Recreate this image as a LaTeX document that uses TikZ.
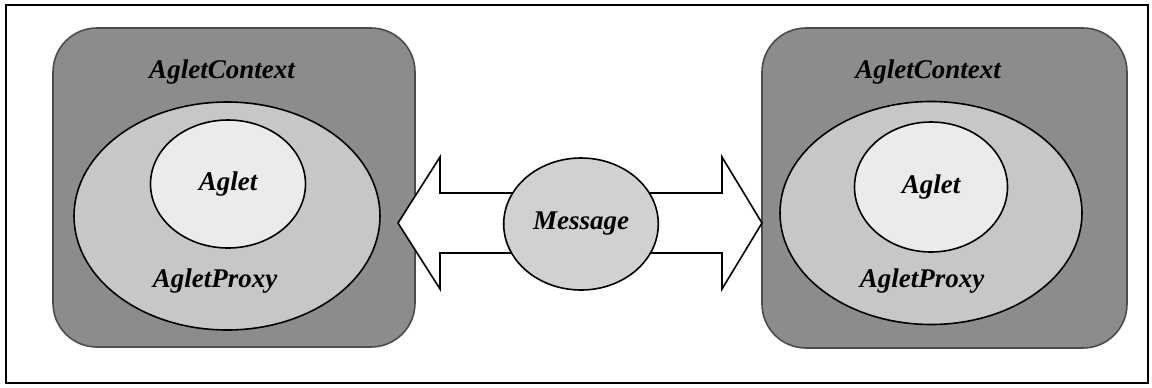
\documentclass[tikz,border=0pt]{standalone}
\usepackage{fontspec}
\setmainfont{Liberation Serif}
\usetikzlibrary{calc}
\usetikzlibrary{positioning}
\usetikzlibrary{shapes}

\begin{document}
\begin{tikzpicture}[x=0.5pt, y=-0.5pt, font=\fontsize{13.5}{16}\selectfont\bfseries\itshape,
    ctxbox/.style={draw=black!70, rectangle, rounded corners=22pt, fill=black!45, line width=0.8pt},
    proxy/.style={draw, shape=ellipse, fill=black!22, line width=0.8pt},
    agletc/.style={draw, shape=ellipse, fill=black!8, line width=0.8pt}]
    \useasboundingbox (0,0) rectangle (1152,387);

    % outer frame
    \node[draw, rectangle, line width=0.8pt, minimum width=571pt, minimum height=189pt] (F) at (577,194) {};

    % left AgletContext
    \node[ctxbox, minimum width=181pt, minimum height=159.5pt] (ctxL) at (234,187.5) {};
    \node (ctxLt) at (222,72) {AgletContext};
    \node[proxy, minimum width=153pt, minimum height=114pt] (proxyL) at (227,216) {};
    \node (proxyLt) at (215,281) {AgletProxy};
    \node[agletc, minimum width=77.5pt, minimum height=64pt] (agletL) at (228,184) {Aglet};

    % right AgletContext
    \node[ctxbox, minimum width=182.5pt, minimum height=160pt] (ctxR) at (944.5,188) {};
    \node (ctxRt) at (928,72) {AgletContext};
    \node[proxy, minimum width=151pt, minimum height=111.5pt] (proxyR) at (931,213) {};
    \node (proxyRt) at (922,281) {AgletProxy};
    \node[agletc, minimum width=76.5pt, minimum height=65pt] (agletR) at (931,187) {Aglet};

    % big double arrow
    \coordinate (tipL) at (398,223);
    \coordinate (tipR) at (762,223);
    \draw[fill=white, line width=0.8pt, line join=miter] (tipL) -- ++(42,-66) -- ++(0,36) -- ($(tipR)+(-40,-30)$) -- ++(0,-36) -- (tipR)
        -- ++(-40,66) -- ++(0,-36) -- ($(tipL)+(42,30)$) -- ++(0,36) -- cycle;

    % Message
    \node[draw, shape=ellipse, fill=black!18, line width=0.8pt, minimum width=76pt, minimum height=66pt] (msg) at (581,224) {Message};

\end{tikzpicture}
\end{document}
